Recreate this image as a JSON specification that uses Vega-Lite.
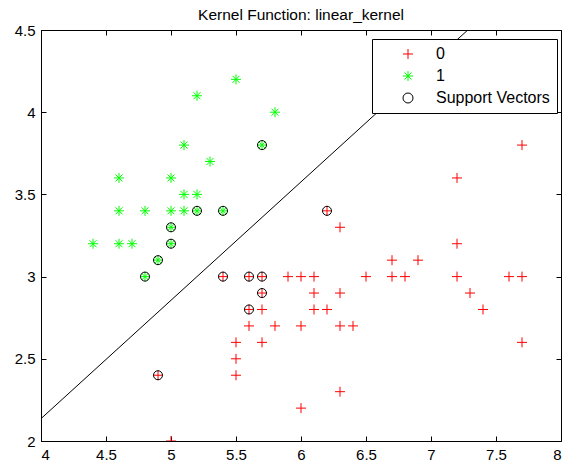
{
  "$schema": "https://vega.github.io/schema/vega-lite/v6.json",
  "width": 520,
  "height": 411,
  "autosize": {"type": "none"},
  "padding": {"left": 41, "top": 30, "right": 2, "bottom": 24},
  "title": {"text": "Kernel Function: linear_kernel", "fontSize": 15.5, "fontWeight": "normal", "font": "Liberation Sans", "anchor": "middle", "offset": 0, "color": "black"},
  "config": {
    "view": {"stroke": "black", "strokeWidth": 1},
    "axis": {"grid": false, "domainColor": "black", "tickColor": "black", "labelColor": "black", "labelFont": "Liberation Sans", "labelFontSize": 15, "title": null, "tickSize": -5, "format": "~g"},
    "legend": {"orient": "none", "legendX": 331, "legendY": 9, "title": null, "strokeColor": "black", "fillColor": "white", "padding": 7, "labelFontSize": 16, "labelFont": "Liberation Sans", "labelColor": "black", "symbolOffset": 21, "labelOffset": 20, "rowPadding": 6, "symbolSize": 100, "symbolStrokeWidth": 1, "cornerRadius": 0}
  },
  "datasets": {
    "pts": [
      {"x": 5.5, "y": 4.2, "g": "1", "sv": false},
      {"x": 5.2, "y": 4.1, "g": "1", "sv": false},
      {"x": 5.8, "y": 4.0, "g": "1", "sv": false},
      {"x": 5.7, "y": 3.8, "g": "1", "sv": true},
      {"x": 5.1, "y": 3.8, "g": "1", "sv": false},
      {"x": 5.3, "y": 3.7, "g": "1", "sv": false},
      {"x": 4.6, "y": 3.6, "g": "1", "sv": false},
      {"x": 5.0, "y": 3.6, "g": "1", "sv": false},
      {"x": 5.1, "y": 3.5, "g": "1", "sv": false},
      {"x": 5.2, "y": 3.5, "g": "1", "sv": false},
      {"x": 4.6, "y": 3.4, "g": "1", "sv": false},
      {"x": 4.8, "y": 3.4, "g": "1", "sv": false},
      {"x": 5.0, "y": 3.4, "g": "1", "sv": false},
      {"x": 5.1, "y": 3.4, "g": "1", "sv": false},
      {"x": 5.2, "y": 3.4, "g": "1", "sv": true},
      {"x": 5.4, "y": 3.4, "g": "1", "sv": true},
      {"x": 5.0, "y": 3.3, "g": "1", "sv": true},
      {"x": 4.4, "y": 3.2, "g": "1", "sv": false},
      {"x": 4.6, "y": 3.2, "g": "1", "sv": false},
      {"x": 4.7, "y": 3.2, "g": "1", "sv": false},
      {"x": 5.0, "y": 3.2, "g": "1", "sv": true},
      {"x": 4.9, "y": 3.1, "g": "1", "sv": true},
      {"x": 4.8, "y": 3.0, "g": "1", "sv": true},
      {"x": 4.9, "y": 2.4, "g": "0", "sv": true},
      {"x": 5.0, "y": 2.0, "g": "0", "sv": false},
      {"x": 5.4, "y": 3.0, "g": "0", "sv": true},
      {"x": 5.6, "y": 3.0, "g": "0", "sv": true},
      {"x": 5.7, "y": 3.0, "g": "0", "sv": true},
      {"x": 5.9, "y": 3.0, "g": "0", "sv": false},
      {"x": 6.0, "y": 3.0, "g": "0", "sv": false},
      {"x": 6.1, "y": 3.0, "g": "0", "sv": false},
      {"x": 6.5, "y": 3.0, "g": "0", "sv": false},
      {"x": 6.7, "y": 3.0, "g": "0", "sv": false},
      {"x": 6.8, "y": 3.0, "g": "0", "sv": false},
      {"x": 7.2, "y": 3.0, "g": "0", "sv": false},
      {"x": 7.6, "y": 3.0, "g": "0", "sv": false},
      {"x": 7.7, "y": 3.0, "g": "0", "sv": false},
      {"x": 5.7, "y": 2.9, "g": "0", "sv": true},
      {"x": 6.1, "y": 2.9, "g": "0", "sv": false},
      {"x": 6.3, "y": 2.9, "g": "0", "sv": false},
      {"x": 7.3, "y": 2.9, "g": "0", "sv": false},
      {"x": 5.6, "y": 2.8, "g": "0", "sv": true},
      {"x": 5.7, "y": 2.8, "g": "0", "sv": false},
      {"x": 6.1, "y": 2.8, "g": "0", "sv": false},
      {"x": 6.2, "y": 2.8, "g": "0", "sv": false},
      {"x": 7.4, "y": 2.8, "g": "0", "sv": false},
      {"x": 5.6, "y": 2.7, "g": "0", "sv": false},
      {"x": 5.8, "y": 2.7, "g": "0", "sv": false},
      {"x": 6.0, "y": 2.7, "g": "0", "sv": false},
      {"x": 6.3, "y": 2.7, "g": "0", "sv": false},
      {"x": 6.4, "y": 2.7, "g": "0", "sv": false},
      {"x": 5.5, "y": 2.6, "g": "0", "sv": false},
      {"x": 5.7, "y": 2.6, "g": "0", "sv": false},
      {"x": 7.7, "y": 2.6, "g": "0", "sv": false},
      {"x": 5.5, "y": 2.5, "g": "0", "sv": false},
      {"x": 5.5, "y": 2.4, "g": "0", "sv": false},
      {"x": 6.3, "y": 2.3, "g": "0", "sv": false},
      {"x": 6.0, "y": 2.2, "g": "0", "sv": false},
      {"x": 6.2, "y": 3.4, "g": "0", "sv": true},
      {"x": 6.3, "y": 3.3, "g": "0", "sv": false},
      {"x": 7.2, "y": 3.2, "g": "0", "sv": false},
      {"x": 6.7, "y": 3.1, "g": "0", "sv": false},
      {"x": 6.9, "y": 3.1, "g": "0", "sv": false},
      {"x": 7.2, "y": 3.6, "g": "0", "sv": false},
      {"x": 7.7, "y": 3.8, "g": "0", "sv": false}
    ],
    "boundary": [
      {"x": 4.0, "y": 2.136},
      {"x": 7.283, "y": 4.5}
    ]
  },
  "resolve": {"axis": {"x": "independent", "y": "independent"}},
  "layer": [
    {
      "data": {"name": "boundary"},
      "mark": {"type": "line", "color": "black", "strokeWidth": 1, "clip": true},
      "encoding": {
        "x": {"field": "x", "type": "quantitative", "scale": {"domain": [4, 8], "nice": false, "zero": false}, "axis": {"orient": "bottom", "values": [4, 4.5, 5, 5.5, 6, 6.5, 7, 7.5, 8], "labelPadding": 11}},
        "y": {"field": "y", "type": "quantitative", "scale": {"domain": [2, 4.5], "nice": false, "zero": false}, "axis": {"orient": "left", "values": [2, 2.5, 3, 3.5, 4, 4.5], "labelPadding": 11}}
      }
    },
    {
      "data": {"name": "pts"},
      "mark": {"type": "point", "filled": false, "strokeWidth": 1, "size": 100, "clip": true, "opacity": 1},
      "encoding": {
        "x": {"field": "x", "type": "quantitative", "axis": {"orient": "top", "labels": false, "values": [4, 4.5, 5, 5.5, 6, 6.5, 7, 7.5, 8]}},
        "y": {"field": "y", "type": "quantitative", "axis": {"orient": "right", "labels": false, "values": [2, 2.5, 3, 3.5, 4, 4.5]}},
        "color": {"field": "g", "type": "nominal", "scale": {"domain": ["0", "1", "Support Vectors"], "range": ["#ff0000", "#00ff00", "#000000"]}},
        "shape": {"field": "g", "type": "nominal", "scale": {"domain": ["0", "1", "Support Vectors"], "range": ["M-1,0L1,0M0,-1L0,1", "M-1,0L1,0M0,-1L0,1M-0.7,-0.7L0.7,0.7M-0.7,0.7L0.7,-0.7", "circle"]}}
      }
    },
    {
      "data": {"name": "pts"},
      "transform": [{"filter": "datum.sv"}],
      "mark": {"type": "point", "filled": false, "strokeWidth": 1, "size": 81, "clip": true, "opacity": 1},
      "encoding": {
        "x": {"field": "x", "type": "quantitative", "axis": null},
        "y": {"field": "y", "type": "quantitative", "axis": null},
        "color": {"datum": "Support Vectors"},
        "shape": {"datum": "Support Vectors"}
      }
    }
  ]
}
